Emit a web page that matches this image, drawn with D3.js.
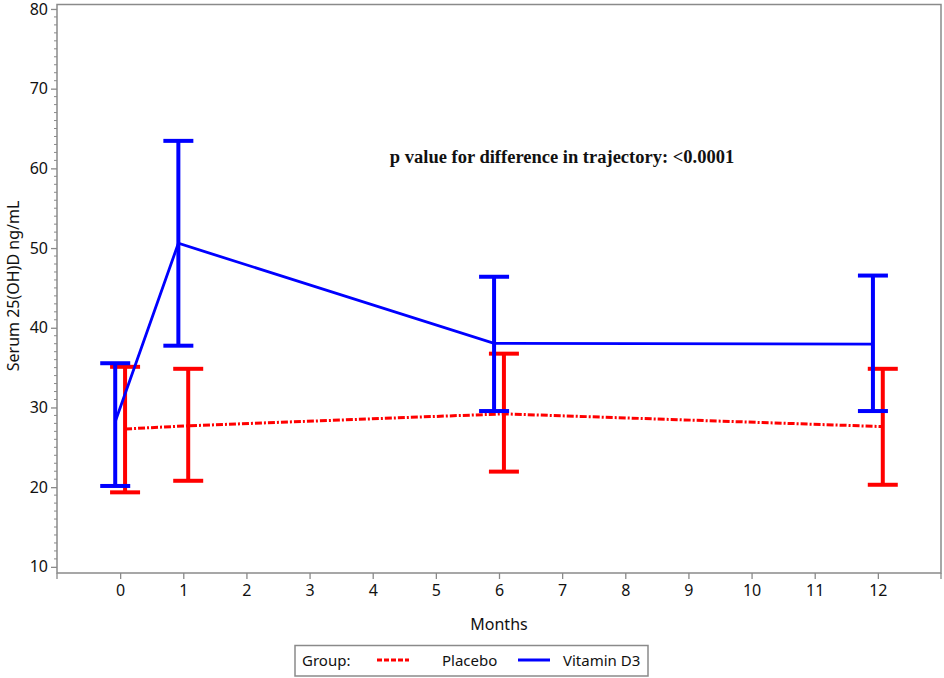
<!DOCTYPE html>
<html><head><meta charset="utf-8">
<script src="https://cdn.jsdelivr.net/npm/d3@7"></script>
<style>body{margin:0;background:#fff}svg{display:block}</style>
</head><body><svg id="c" width="944" height="678"></svg>
<script>
const months = [0, 1, 6, 12];
const groups = ["Placebo", "Vitamin D3"];
const placeboMean = [27.3, 27.7, 29.2, 27.6];
const placeboLow  = [19.35, 20.8, 21.95, 20.3];
const placeboHigh = [35.1, 34.85, 36.75, 34.85];
const vitdMean = [28.2, 50.6, 38.05, 37.95];
const vitdLow  = [20.15, 37.75, 29.55, 29.55];
const vitdHigh = [35.55, 63.45, 46.4, 46.55];
const xTicks = [0,1,2,3,4,5,6,7,8,9,10,11,12];
const yTicks = [10,20,30,40,50,60,70,80];
const annotation = "p value for difference in trajectory: <0.0001";

const svg = d3.select("#c");
const font = "'Noto Sans', 'DejaVu Sans', sans-serif";
const L = 57, R = 941, T = 4.5, B = 573;
const x = d3.scaleLinear().domain([-1, 13]).range([L, R]);
const y = d3.scaleLinear().domain([9.23, 80.56]).range([B, T]);
const off = 0.078;

// frame
svg.append("rect").attr("x", L).attr("y", T).attr("width", R - L).attr("height", B - T)
  .attr("fill", "none").attr("stroke", "#8a8a8a").attr("stroke-width", 1.5);

// y axis
const ya = svg.append("g").attr("transform", `translate(${L},0)`)
  .call(d3.axisLeft(y).tickValues(yTicks).tickSize(6).tickPadding(3));
ya.select(".domain").remove();
ya.selectAll("line").attr("stroke", "#8a8a8a").attr("stroke-width", 1.3);
ya.selectAll("text").attr("font-family", font).attr("font-size", 16).attr("fill", "#111");
const minor = d3.range(10, 81).filter(v => v % 10 !== 0);
svg.append("g").selectAll("line").data(minor).join("line")
  .attr("x1", L - 3).attr("x2", L).attr("y1", d => y(d)).attr("y2", d => y(d))
  .attr("stroke", "#8a8a8a").attr("stroke-width", 1);

// x axis
const xa = svg.append("g").attr("transform", `translate(0,${B})`)
  .call(d3.axisBottom(x).tickValues(xTicks).tickSize(6).tickPadding(6));
xa.select(".domain").remove();
xa.selectAll("line").attr("stroke", "#8a8a8a").attr("stroke-width", 1.3);
xa.selectAll("text").attr("font-family", font).attr("font-size", 16).attr("fill", "#111");
svg.append("line").attr("x1", L).attr("x2", L).attr("y1", B).attr("y2", B + 6)
  .attr("stroke", "#8a8a8a").attr("stroke-width", 1.3);
svg.append("line").attr("x1", R).attr("x2", R).attr("y1", B).attr("y2", B + 6)
  .attr("stroke", "#8a8a8a").attr("stroke-width", 1.3);

// axis labels
svg.append("text").attr("x", x(6)).attr("y", 630).attr("text-anchor", "middle")
  .attr("font-family", font).attr("font-size", 16).attr("fill", "#111").text("Months");
svg.append("text").attr("transform", `translate(19,${286}) rotate(-90)`).attr("text-anchor", "middle")
  .attr("font-family", font).attr("font-size", 16).attr("fill", "#111").text("Serum 25(OH)D ng/mL");

const series = [
  {name: "Placebo", color: "#ff0000", dx: off, mean: placeboMean, lo: placeboLow, hi: placeboHigh, dash: "7,2,2,2", lw: 3},
  {name: "Vitamin D3", color: "#0000ff", dx: -off, mean: vitdMean, lo: vitdLow, hi: vitdHigh, dash: null, lw: 2.8}
];
const cap = 15;
series.forEach(s => {
  const pts = months.map((m, i) => ({m, mean: s.mean[i], lo: s.lo[i], hi: s.hi[i]}));
  const g = svg.append("g");
  g.selectAll(".v").data(pts).join("line")
    .attr("x1", d => x(d.m + s.dx)).attr("x2", d => x(d.m + s.dx))
    .attr("y1", d => y(d.lo)).attr("y2", d => y(d.hi))
    .attr("stroke", s.color).attr("stroke-width", 4);
  ["lo", "hi"].forEach(k => {
    g.selectAll(".c" + k).data(pts).join("line")
      .attr("x1", d => x(d.m + s.dx) - cap).attr("x2", d => x(d.m + s.dx) + cap)
      .attr("y1", d => y(d[k])).attr("y2", d => y(d[k]))
      .attr("stroke", s.color).attr("stroke-width", 4);
  });
  g.append("path").datum(pts)
    .attr("d", d3.line().x(d => x(d.m + s.dx)).y(d => y(d.mean)))
    .attr("fill", "none").attr("stroke", s.color).attr("stroke-width", s.lw)
    .attr("stroke-dasharray", s.dash);
});

// annotation
svg.append("text").attr("x", 562).attr("y", 163).attr("text-anchor", "middle")
  .attr("font-family", "'Liberation Serif', 'DejaVu Serif', serif").attr("font-weight", "bold")
  .attr("font-size", 18.5).attr("fill", "#111").text(annotation);

// legend
const lg = svg.append("g");
lg.append("rect").attr("x", 295).attr("y", 645.5).attr("width", 353).attr("height", 30.5)
  .attr("fill", "#fff").attr("stroke", "#8a8a8a").attr("stroke-width", 1.5);
lg.append("text").attr("x", 302).attr("y", 666).attr("font-family", font).attr("font-size", 15)
  .attr("fill", "#111").text("Group:");
lg.append("line").attr("x1", 377).attr("x2", 409).attr("y1", 660).attr("y2", 660)
  .attr("stroke", "#ff0000").attr("stroke-width", 3).attr("stroke-dasharray", "5,2");
lg.append("text").attr("x", 442).attr("y", 666).attr("font-family", font).attr("font-size", 15)
  .attr("fill", "#111").text(groups[0]);
lg.append("line").attr("x1", 518).attr("x2", 550).attr("y1", 660).attr("y2", 660)
  .attr("stroke", "#0000ff").attr("stroke-width", 3);
lg.append("text").attr("x", 563).attr("y", 666).attr("font-family", font).attr("font-size", 15)
  .attr("fill", "#111").text(groups[1]);
</script></body></html>
